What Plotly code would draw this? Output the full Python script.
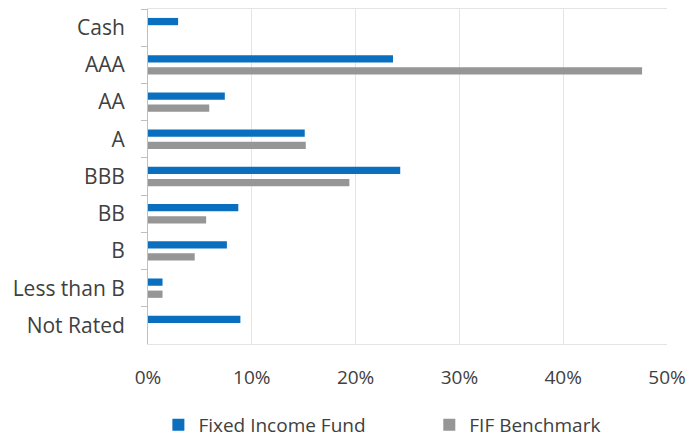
import plotly.graph_objects as go

categories = ["Cash", "AAA", "AA", "A", "BBB", "BB", "B", "Less than B", "Not Rated"]
fund_values = [2.9, 23.6, 7.4, 15.1, 24.3, 8.7, 7.6, 1.4, 8.9]
bench_values = [None, 47.6, 5.9, 15.2, 19.4, 5.6, 4.5, 1.4, None]
x_ticks = [0, 10, 20, 30, 40, 50]
x_tick_labels = ["0%", "10%", "20%", "30%", "40%", "50%"]

FONT = "Open Sans"

fig = go.Figure()
fig.add_trace(go.Bar(
    y=categories, x=fund_values, orientation="h", name="Fixed Income Fund",
    marker=dict(color="#0A6FBE", line=dict(width=0)), legend="legend",
))
fig.add_trace(go.Bar(
    y=categories, x=bench_values, orientation="h", name="FIF Benchmark",
    marker=dict(color="#969696", line=dict(width=0)), legend="legend2",
))

legend_common = dict(orientation="h", xanchor="left", y=-0.185, yanchor="top",
                     font=dict(family=FONT, size=19, color="#404040"),
                     itemwidth=30, bgcolor="rgba(0,0,0,0)")

fig.update_layout(
    width=700, height=439,
    margin=dict(l=148, r=33, t=9, b=95, autoexpand=False),
    paper_bgcolor="white", plot_bgcolor="white",
    barmode="group", bargap=0.35, bargroupgap=0.4,
    font=dict(family=FONT, size=20, color="#404040"),
    showlegend=True,
    legend=dict(x=0.02, **legend_common),
    legend2=dict(x=0.542, **legend_common),
    xaxis=dict(range=[0, 50], tickvals=x_ticks, ticktext=x_tick_labels,
               showgrid=True, gridcolor="#E4E4E4", gridwidth=1, automargin=False,
               zeroline=False, showline=True, linecolor="#E4E4E4", mirror=True,
               ticks="", tickfont=dict(size=19, color="#404040"), ticklabelstandoff=16),
    yaxis=dict(categoryorder="array", categoryarray=categories, autorange="reversed",
               showgrid=False, zeroline=False, showline=True, linecolor="#BFBFBF",
               automargin=False,
               ticks="outside", ticklen=6, tickcolor="#BFBFBF", tickson="boundaries",
               tickfont=dict(size=21, color="#404040"), ticklabelstandoff=18),
)

fig.write_html("out.html", config={"displayModeBar": False},
               post_script="document.body.style.margin='0';document.body.style.overflow='hidden';")
